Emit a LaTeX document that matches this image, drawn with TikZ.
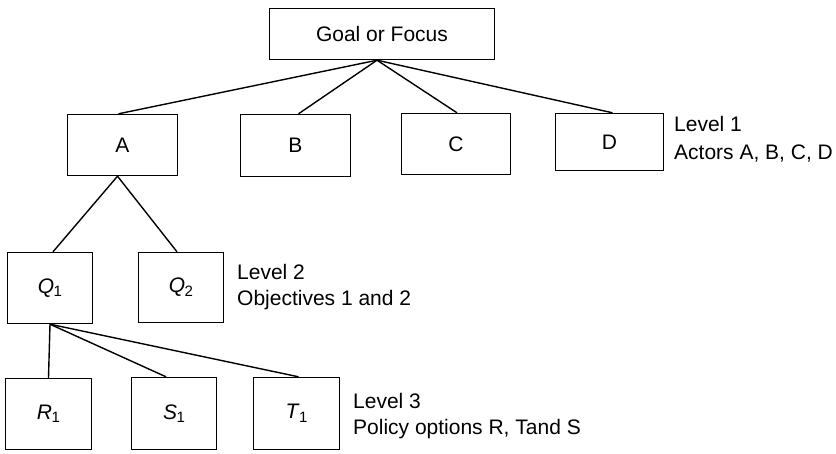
\documentclass[tikz,border=0pt]{standalone}
\usepackage{fontspec}
\setmainfont{Liberation Sans}
\newcommand{\myidx}[2]{\textit{#1}\kern-0.5pt\raisebox{-3.5pt}{\fontsize{15}{15}\selectfont #2}}
\begin{document}
\begin{tikzpicture}[x=1pt,y=-1pt,
  box/.style={draw, line width=1.4pt, inner sep=0pt, font=\fontsize{21}{25}\selectfont},
  lbl/.style={anchor=base west, inner sep=0pt, font=\fontsize{21}{25}\selectfont},
  link/.style={line width=1.4pt}]
\useasboundingbox (0,0) rectangle (836,453);
% level 0
\node[box, minimum width=225pt, minimum height=51pt] (goal) at (382,34) {Goal or Focus};
% level 1
\node[box, minimum width=110pt, minimum height=61pt] (A) at (122.5,145) {A};
\node[box, minimum width=110pt, minimum height=62pt] (B) at (295.5,145.5) {B};
\node[box, minimum width=109pt, minimum height=61pt] (C) at (456,144) {C};
\node[box, minimum width=108pt, minimum height=57pt] (D) at (609.5,142) {D};
% level 2
\node[box, minimum width=85pt, minimum height=71pt] (Q1) at (50,288) {\myidx{Q}{1}};
\node[box, minimum width=85pt, minimum height=70pt] (Q2) at (181,287.5) {\myidx{Q}{2}};
% level 3
\node[box, minimum width=86pt, minimum height=71pt] (R1) at (48.5,414) {\myidx{R}{1}};
\node[box, minimum width=85pt, minimum height=72pt] (S1) at (174,413.5) {\myidx{S}{1}};
\node[box, minimum width=86pt, minimum height=72pt] (T1) at (296.5,413.5) {\myidx{T}{1}};
% labels
\node[lbl] (l1a) at (674,131) {Level 1};
\node[lbl] (l1b) at (674,159) {Actors A, B, C, D};
\node[lbl] (l2a) at (237,279) {Level 2};
\node[lbl] (l2b) at (237,305) {Objectives 1 and 2};
\node[lbl] (l3a) at (353,408) {Level 3};
\node[lbl] (l3b) at (353,434) {Policy options R, Tand S};
% connectors
\coordinate (gs) at ([xshift=-5pt]goal.south);
\draw[link] (gs) -- ([xshift=-4pt]A.north);
\draw[link] (gs) -- ([xshift=3pt]B.north);
\draw[link] (gs) -- ([xshift=1pt]C.north);
\draw[link] (gs) -- ([xshift=3pt]D.north);
\coordinate (as) at ([xshift=-5pt]A.south);
\draw[link] (as) -- ([xshift=3pt]Q1.north);
\draw[link] (as) -- ([xshift=-4pt]Q2.north);
\coordinate (qs) at (Q1.south);
\draw[link] (qs) -- (R1.north);
\draw[link] (qs) -- ([xshift=-8pt]S1.north);
\draw[link] (qs) -- ([xshift=2pt]T1.north);
\end{tikzpicture}
\end{document}
